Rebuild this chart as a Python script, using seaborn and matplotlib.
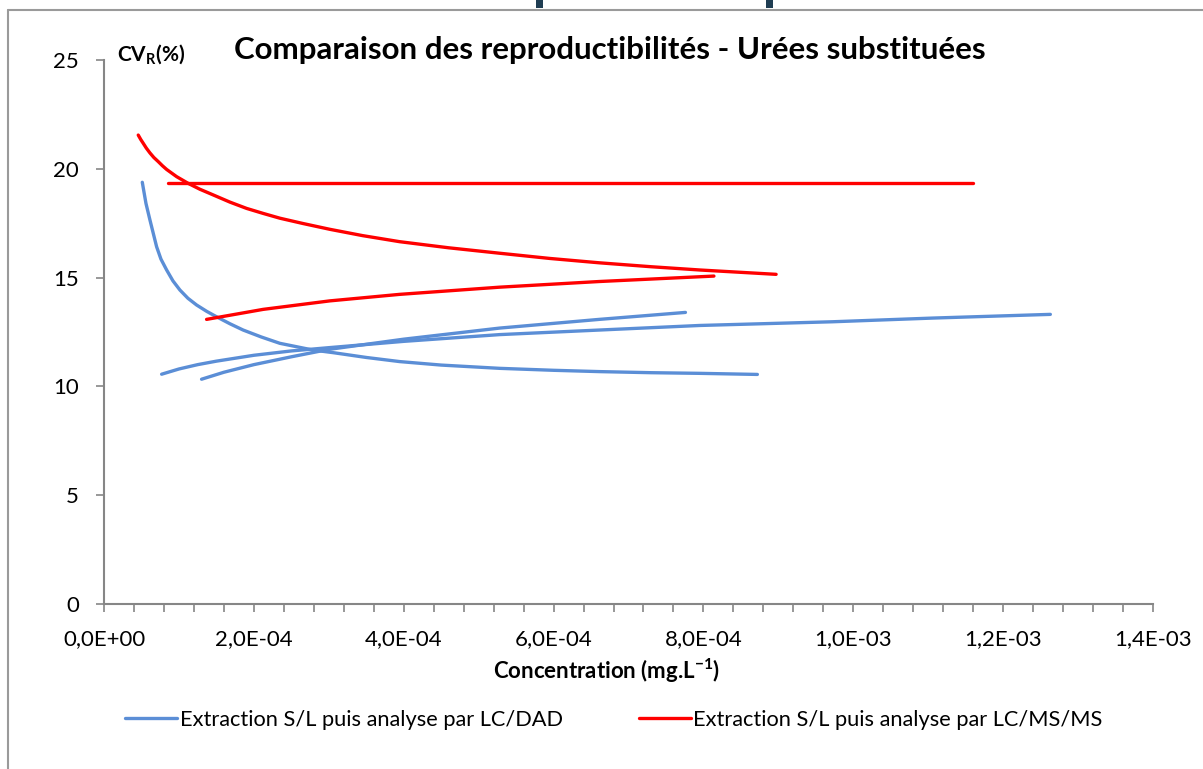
import numpy as np
import pandas as pd
import matplotlib
matplotlib.use("Agg")
import matplotlib.pyplot as plt
from matplotlib.lines import Line2D
from matplotlib.patches import Rectangle
from matplotlib.ticker import MultipleLocator, FuncFormatter
import seaborn as sns

# --- data: CV_R (%) versus concentration (mg/L) ---
dad_label = "Extraction S/L puis analyse par LC/DAD"
msms_label = "Extraction S/L puis analyse par LC/MS/MS"

dad1_x = [5.11e-5, 5.6e-5, 6.13e-5, 7.02e-5, 7.6e-5, 8.36e-5, 9.2e-5, 1.013e-4, 1.12e-4,
          1.236e-4, 1.37e-4, 1.502e-4, 1.68e-4, 1.857e-4, 2.1e-4, 2.347e-4, 2.79e-4,
          3.06e-4, 3.5e-4, 3.947e-4, 4.5e-4, 5.28e-4, 6.0e-4, 6.61e-4, 7.3e-4, 7.95e-4, 8.72e-4]
dad1_y = [19.38, 18.41, 17.65, 16.42, 15.85, 15.35, 14.85, 14.43, 14.05,
          13.74, 13.45, 13.20, 12.88, 12.59, 12.27, 11.98, 11.67,
          11.55, 11.33, 11.14, 10.98, 10.83, 10.74, 10.68, 10.63, 10.60, 10.55]

dad2_x = [7.69e-5, 1.0e-4, 1.25e-4, 1.5e-4, 2.0e-4, 2.5e-4, 3.0e-4, 4.0e-4, 5.28e-4, 6.61e-4,
          7.95e-4, 9.72e-4, 1.106e-3, 1.263e-3]
dad2_y = [10.56, 10.80, 11.00, 11.16, 11.43, 11.63, 11.78, 12.07, 12.38, 12.59,
          12.80, 12.97, 13.14, 13.31]

dad3_x = [1.302e-4, 1.6e-4, 2.0e-4, 2.5e-4, 3.0e-4, 4.0e-4, 5.28e-4, 6.61e-4, 7.76e-4]
dad3_y = [10.33, 10.65, 11.00, 11.36, 11.70, 12.17, 12.68, 13.08, 13.40]

ms1_x = [4.57e-5, 4.9e-5, 5.24e-5, 5.65e-5, 6.13e-5, 6.65e-5, 7.24e-5, 7.8e-5, 8.36e-5,
         9.69e-5, 1.124e-4, 1.28e-4, 1.457e-4, 1.68e-4, 1.903e-4, 2.124e-4, 2.347e-4,
         2.65e-4, 3.013e-4, 3.45e-4, 3.947e-4, 4.6e-4, 5.28e-4, 5.95e-4, 6.61e-4,
         7.3e-4, 7.95e-4, 8.97e-4]
ms1_y = [21.55, 21.35, 21.17, 20.95, 20.73, 20.52, 20.33, 20.14, 19.97,
         19.64, 19.33, 19.06, 18.80, 18.47, 18.18, 17.95, 17.73,
         17.49, 17.22, 16.93, 16.65, 16.37, 16.12, 15.88, 15.68,
         15.50, 15.35, 15.15]

ms2_x = [8.57e-5, 1.160e-3]
ms2_y = [19.37, 19.37]

ms3_x = [1.369e-4, 2.124e-4, 3.013e-4, 3.947e-4, 5.28e-4, 6.61e-4, 8.14e-4]
ms3_y = [13.08, 13.54, 13.93, 14.23, 14.56, 14.82, 15.07]

x_ticks = [0, 2e-4, 4e-4, 6e-4, 8e-4, 1e-3, 1.2e-3, 1.4e-3]
y_ticks = [0, 5, 10, 15, 20, 25]

frames = []
for name, method, xs, ys in [
    ("dad1", dad_label, dad1_x, dad1_y),
    ("dad2", dad_label, dad2_x, dad2_y),
    ("dad3", dad_label, dad3_x, dad3_y),
    ("ms1", msms_label, ms1_x, ms1_y),
    ("ms2", msms_label, ms2_x, ms2_y),
    ("ms3", msms_label, ms3_x, ms3_y),
]:
    frames.append(pd.DataFrame({"conc": xs, "cv": ys, "curve": name, "method": method}))
df = pd.concat(frames, ignore_index=True)

BLUE = "#5B8ED6"
RED = "#FF0000"
GREY = "#868686"

sns.set_style("white")
plt.rcParams["font.family"] = ["Lato", "DejaVu Sans"]
plt.rcParams["text.color"] = "black"
plt.rcParams["mathtext.fontset"] = "custom"
plt.rcParams["mathtext.rm"] = "Lato"
plt.rcParams["mathtext.bf"] = "Lato:bold"

fig = plt.figure(figsize=(12.03, 7.69), dpi=100)
ax = fig.add_axes([104 / 1203, 165 / 769, (1153 - 104) / 1203, (604 - 60) / 769])

sns.lineplot(data=df, x="conc", y="cv", hue="method", units="curve",
             estimator=None, sort=False, palette={dad_label: BLUE, msms_label: RED},
             linewidth=2.4, legend=False, ax=ax)
for line in ax.get_lines():
    line.set_solid_joinstyle("round")
    line.set_solid_capstyle("round")

ax.set_xlim(0, 1.4e-3)
ax.set_ylim(0, 25)
ax.set_xticks(x_ticks)
ax.xaxis.set_minor_locator(MultipleLocator(4e-5))
ax.set_yticks(y_ticks)


def sci_fr(v, pos):
    return f"{v:.1E}".replace(".", ",")


ax.xaxis.set_major_formatter(FuncFormatter(sci_fr))
ax.tick_params(axis="x", which="both", direction="out", length=6, width=1.2,
               color=GREY, labelcolor="black", labelsize=16, pad=12, bottom=True)
ax.tick_params(axis="y", which="major", direction="out", length=6, width=1.2,
               color=GREY, labelcolor="black", labelsize=16, pad=12, left=True)
for side in ("top", "right"):
    ax.spines[side].set_visible(False)
for side in ("left", "bottom"):
    ax.spines[side].set_color(GREY)
    ax.spines[side].set_linewidth(1.5)
ax.set_xlabel("")
ax.set_ylabel("")

# titles and axis labels
fig.text(610 / 1203, 1 - 50 / 769, "Comparaison des reproductibilités - Urées substituées",
         ha="center", va="center", fontsize=22.5, fontweight="bold", color="black")
fig.text(117 / 1203, 1 - 55 / 769, r"CV$_{\mathbf{R}}$(%)",
         ha="left", va="center", fontsize=15, fontweight="bold", color="black")
fig.text(607 / 1203, 1 - 671 / 769, r"Concentration (mg.L$^{\mathbf{-1}}$)",
         ha="center", va="center", fontsize=16, fontweight="bold", color="black")

# legend
handles = [Line2D([], [], color=BLUE, lw=2.4), Line2D([], [], color=RED, lw=2.4)]
leg = fig.legend(handles, [dad_label, msms_label], loc="center",
                 bbox_to_anchor=(614 / 1203, 1 - 720 / 769), ncol=2, frameon=False,
                 fontsize=15.7, handlelength=2.4, handletextpad=0.1, columnspacing=3.5)
for t in leg.get_texts():
    t.set_color("black")

# outer frame of the chart area and slide decoration at the top
fig.add_artist(Line2D([8 / 1203, 1], [1 - 10 / 769, 1 - 10 / 769],
                      transform=fig.transFigure, color="#9a9a9a", lw=1.5))
fig.add_artist(Line2D([8 / 1203, 8 / 1203], [0, 1 - 10 / 769],
                      transform=fig.transFigure, color="#9a9a9a", lw=1.5))
for x0, w in [(536, 7), (766, 7)]:
    fig.add_artist(Rectangle((x0 / 1203, 1 - 8 / 769), w / 1203, 8 / 769,
                             transform=fig.transFigure, color="#1f3d52", lw=0))

fig.savefig("out.png", dpi=100)
